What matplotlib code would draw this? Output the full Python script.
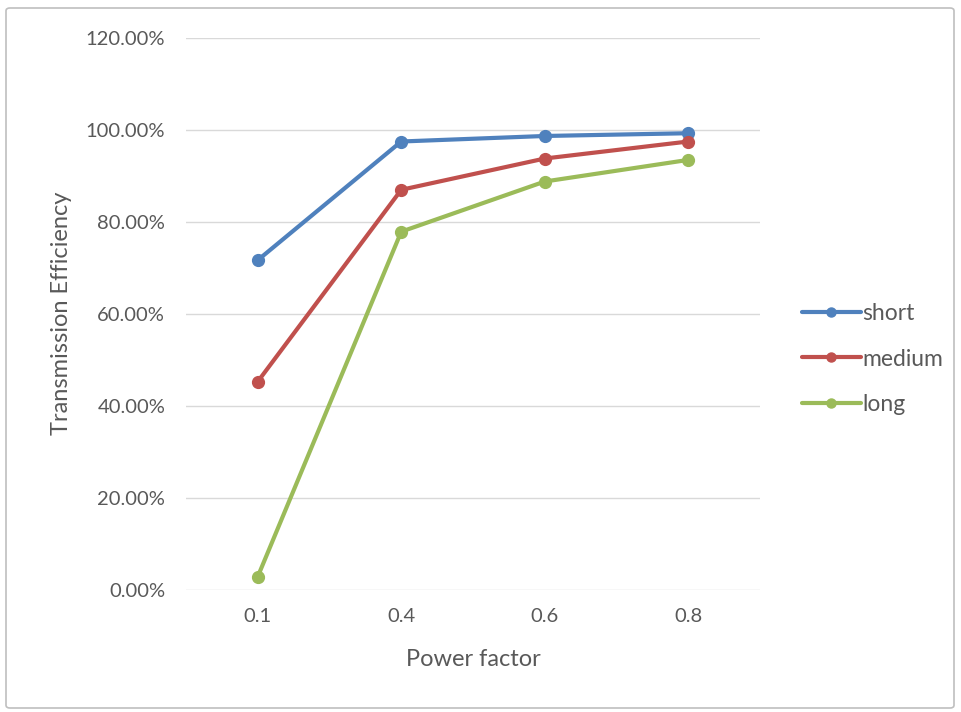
import matplotlib
matplotlib.use("Agg")
import matplotlib.pyplot as plt
from matplotlib.patches import FancyBboxPatch
from matplotlib.ticker import FuncFormatter

# Transmission efficiency (%) per power factor and line length
power_factor = ["0.1", "0.4", "0.6", "0.8"]
short = [71.7, 97.5, 98.7, 99.3]
medium = [45.3, 87.0, 93.8, 97.5]
long_line = [2.9, 77.9, 88.8, 93.5]
series_names = ["short", "medium", "long"]
series_colors = ["#4F81BD", "#C0504D", "#9BBB59"]
y_ticks = [0, 20, 40, 60, 80, 100, 120]

plt.rcParams["font.family"] = ["Lato", "DejaVu Sans"]
text_color = "#595959"

fig = plt.figure(figsize=(9.62, 7.12), dpi=100)
fig.patch.set_facecolor("white")

# Chart-area frame
frame = FancyBboxPatch((6 / 962, 4 / 712), 948 / 962, 700 / 712,
                       boxstyle="round,pad=0,rounding_size=0.004",
                       transform=fig.transFigure, facecolor="none",
                       edgecolor="#BFBFBF", linewidth=1.2)
fig.patches.append(frame)

ax = fig.add_axes([186 / 962, 1 - 590 / 712, 574 / 962, 552 / 712])
x = list(range(len(power_factor)))

for vals, name, col in zip([short, medium, long_line], series_names, series_colors):
    ax.plot(x, vals, color=col, linewidth=3.0, marker="o", markersize=8.5,
            label=name, solid_capstyle="round", solid_joinstyle="round")

ax.set_xlim(-0.5, len(power_factor) - 0.5)
ax.set_ylim(0, 120)
ax.set_xticks(x)
ax.set_xticklabels(power_factor)
ax.set_yticks(y_ticks)
ax.yaxis.set_major_formatter(FuncFormatter(lambda v, p: f"{v:.2f}%"))
ax.grid(axis="y", color="#D9D9D9", linewidth=1.0)
ax.set_axisbelow(True)
for s in ax.spines.values():
    s.set_visible(False)
ax.tick_params(axis="both", length=0, labelsize=14.5, labelcolor=text_color)
ax.tick_params(axis="y", pad=15)
ax.tick_params(axis="x", pad=13)

ax.set_xlabel("Power factor", fontsize=17, color=text_color)
ax.set_ylabel("Transmission Efficiency", fontsize=17, color=text_color)
ax.xaxis.set_label_coords((473 - 186) / 574, (590 - 660) / 552)
ax.yaxis.set_label_coords((62 - 186) / 574, (590 - 313) / 552)
ax.xaxis.label.set_va("center")
ax.yaxis.label.set_va("center")

leg = fig.legend(loc="center left", bbox_to_anchor=(781 / 962, 1 - 359 / 712),
                 frameon=False, fontsize=16.5, labelcolor=text_color,
                 handlelength=2.6, handletextpad=0.05, labelspacing=1.05)
for h in leg.legend_handles:
    h.set_markersize(6.5)

fig.savefig("out.png", dpi=100, facecolor="white")
